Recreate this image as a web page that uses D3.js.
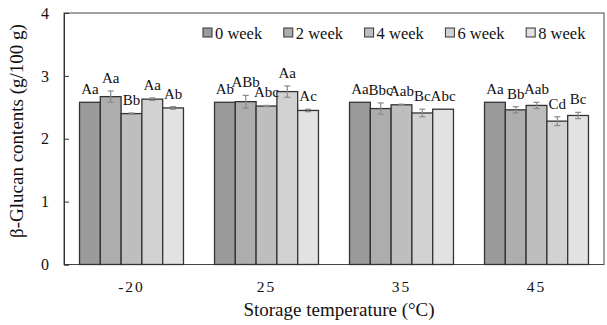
<!DOCTYPE html>
<html>
<head>
<meta charset="utf-8">
<script src="https://cdn.jsdelivr.net/npm/d3@7"></script>
<style>
  body { margin: 0; background: #fff; }
  text { font-family: "Liberation Serif", "DejaVu Serif", serif; fill: #111; }
</style>
</head>
<body>
<div class="chart"></div>
<script>
const WIDTH = 607
const HEIGHT = 325

// données
const temps = ["-20", "25", "35", "45"]
const weeks = ["0 week", "2 week", "4 week", "6 week", "8 week"]
const values = [
  [2.58, 2.67, 2.40, 2.63, 2.49],
  [2.58, 2.59, 2.52, 2.75, 2.45],
  [2.58, 2.48, 2.54, 2.41, 2.47],
  [2.58, 2.46, 2.53, 2.28, 2.37]
]
const errors = [
  [0.00, 0.09, 0.01, 0.02, 0.02],
  [0.00, 0.10, 0.01, 0.09, 0.02],
  [0.00, 0.09, 0.01, 0.06, 0.00],
  [0.00, 0.05, 0.05, 0.07, 0.05]
]
const letters = [
  ["Aa", "Aa", "Bb", "Aa", "Ab"],
  ["Ab", "ABb", "Abc", "Aa", "Ac"],
  ["Aa", "Bbc", "Aab", "Bc", "Abc"],
  ["Aa", "Bb", "Aab", "Cd", "Bc"]
]
const yTicks = [0, 1, 2, 3, 4]
const colors = ["#9b9b9b", "#adadad", "#bebebe", "#d2d2d2", "#e2e2e2"]

const margin = {left: 64, right: 3, top: 13, bottom: 60.5}

const svg = d3.select("div.chart")
            .append("svg")
            .attr("width", WIDTH)
            .attr("height", HEIGHT)

const x = d3.scaleBand()
            .domain(temps)
            .range([margin.left, WIDTH - margin.right])
            .paddingInner(0.23)
            .paddingOuter(0.115)

const xIn = d3.scaleBand()
            .domain(weeks)
            .range([0, x.bandwidth()])

const y = d3.scaleLinear()
            .domain([0, 4])
            .range([HEIGHT - margin.bottom, margin.top])

// cadre
svg.append("rect")
   .attr("x", margin.left)
   .attr("y", y(4))
   .attr("width", WIDTH - margin.right - margin.left)
   .attr("height", y(0) - y(4))
   .style("fill", "none")
   .style("stroke", "#444")
   .style("stroke-width", 1)

// axe y (ticks vers l'intérieur)
const yAxis = svg.append("g")
   .attr("transform", `translate(${margin.left},0)`)
   .call(d3.axisLeft(y).tickValues(yTicks).tickSize(-5).tickPadding(15).tickFormat(d3.format("d")))
yAxis.select(".domain").attr("stroke", "#333")
yAxis.selectAll(".tick line").attr("stroke", "#333")
yAxis.selectAll("text").style("font-size", "16px").style("font-family", "Liberation Serif")

// groupes
const groups = svg.selectAll("g.grp")
   .data(temps)
   .enter()
   .append("g")
   .attr("class", "grp")
   .attr("transform", d => `translate(${x(d)},0)`)

groups.each(function(t, gi) {
  const g = d3.select(this)
  const rows = weeks.map((w, i) => ({w, i, v: values[gi][i], e: errors[gi][i], l: letters[gi][i]}))

  g.selectAll("rect")
   .data(rows)
   .enter()
   .append("rect")
   .attr("x", d => xIn(d.w))
   .attr("y", d => y(d.v))
   .attr("width", xIn.bandwidth())
   .attr("height", d => y(0) - y(d.v))
   .style("fill", d => colors[d.i])
   .style("stroke", "#333")
   .style("stroke-width", 1.3)

  const eb = g.selectAll("g.err")
   .data(rows.filter(d => d.e > 0))
   .enter()
   .append("g")
   .attr("class", "err")
   .style("stroke", "#8a8a8a")
   .style("stroke-width", 1.2)
  const cx = d => xIn(d.w) + xIn.bandwidth() / 2
  eb.append("line")
    .attr("x1", cx).attr("x2", cx)
    .attr("y1", d => y(d.v + d.e)).attr("y2", d => y(d.v - d.e))
  eb.append("line")
    .attr("x1", d => cx(d) - 3).attr("x2", d => cx(d) + 3)
    .attr("y1", d => y(d.v + d.e)).attr("y2", d => y(d.v + d.e))
  eb.append("line")
    .attr("x1", d => cx(d) - 3).attr("x2", d => cx(d) + 3)
    .attr("y1", d => y(d.v - d.e)).attr("y2", d => y(d.v - d.e))

  g.selectAll("text.lab")
   .data(rows)
   .enter()
   .append("text")
   .attr("class", "lab")
   .attr("x", cx)
   .attr("y", d => y(d.v + d.e) - 8)
   .attr("text-anchor", "middle")
   .style("font-size", "15px")
   .text(d => d.l)
})

// étiquettes x
svg.selectAll("text.xlab")
   .data(temps)
   .enter()
   .append("text")
   .attr("class", "xlab")
   .attr("x", d => x(d) + x.bandwidth() / 2)
   .attr("y", 292)
   .attr("text-anchor", "middle")
   .style("font-size", "15.5px")
   .style("letter-spacing", "2px")
   .text(d => d)

svg.append("text")
   .attr("x", 339)
   .attr("y", 316)
   .attr("text-anchor", "middle")
   .style("font-size", "19px")
   .text("Storage temperature (°C)")

svg.append("text")
   .attr("transform", "translate(23,131) rotate(-90)")
   .attr("text-anchor", "middle")
   .style("font-size", "19px")
   .text("β-Glucan contents (g/100 g)")

// légende
const leg = svg.selectAll("g.leg")
   .data(weeks)
   .enter()
   .append("g")
   .attr("class", "leg")
   .attr("transform", (d, i) => `translate(${203 + i * 80.8},33)`)
leg.append("rect")
   .attr("x", 0).attr("y", -5)
   .attr("width", 9).attr("height", 9)
   .style("fill", (d, i) => colors[i])
   .style("stroke", "#333")
   .style("stroke-width", 1)
leg.append("text")
   .attr("x", 12)
   .attr("y", 5.5)
   .style("font-size", "16.5px")
   .text(d => d)
</script>
</body>
</html>
